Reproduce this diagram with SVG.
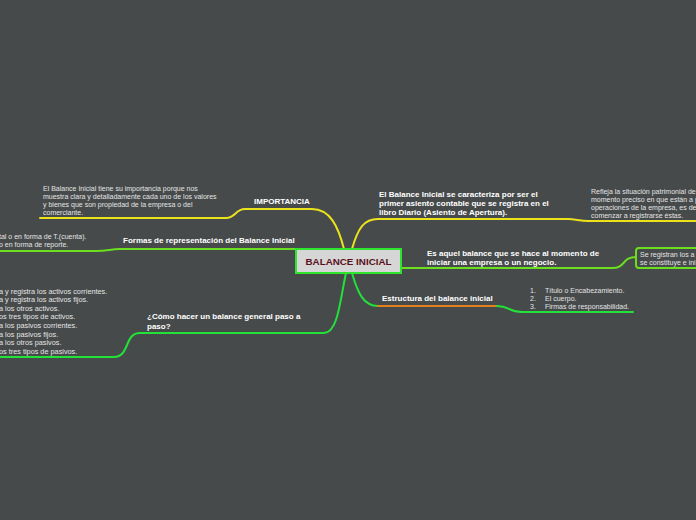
<svg xmlns="http://www.w3.org/2000/svg" width="696" height="520" viewBox="0 0 696 520">
<style>
.bg{fill:#464a4b}
.c{fill:none;stroke-width:2;stroke-linecap:round}
.y{stroke:#ebe21c}
.l{stroke:#6ade1f}
.g{stroke:#22e23a}
.o{stroke:#e2801c}
.lab{font-family:"Liberation Sans",Arial,sans-serif;font-weight:bold;font-size:8px;fill:#ffffff}
.txt{font-family:"Liberation Sans",Arial,sans-serif;font-size:7px;fill:#e4e4e4}
.big{font-size:7.3px}
</style>
<rect class="bg" x="0" y="0" width="696" height="520"/>
<g id="connectors">
<path class="c y" d="M344,249 C338,226 330,209 312,209 L245,209 C235,209 236,218 226,218 L40,218"/>
<path class="c l" d="M297,249 L120,249 C110,249 108,251 96,251 L0,251"/>
<path class="c g" d="M346,273 C340,300 338,333 324,333 L140,333 C124,333 130,357 114,357 L0,357"/>
<path class="c y" d="M352,249 C358,228 364,219 378,219 L568,219 C575,219 580,221 588,221 L696,221"/>
<path class="c l" d="M401,268 L612,268 C626,268 622,257 636,257"/>
<path class="c g" d="M352,273 C358,294 364,306 378,306"/>
<path class="c o" d="M378,306 L497,306"/>
<path class="c g" d="M497,306 C510,306 508,312 522,312 L633,312"/>
</g>
<g id="central">
<rect x="296" y="249" width="105" height="24" fill="#d6d6d6" stroke="#2ee52e" stroke-width="2"/>
<text x="348.5" y="264.5" text-anchor="middle" font-family="Liberation Sans,Arial,sans-serif" font-weight="bold" font-size="9.8px" fill="#5a1020">BALANCE INICIAL</text>
</g>
<g id="importancia">
<text class="lab" x="254" y="203.5">IMPORTANCIA</text>
</g>
<g id="importancia-desc">
<text class="txt" x="43" y="190.5">El Balance Inicial tiene su importancia porque nos</text>
<text class="txt" x="43" y="198.5">muestra clara y detalladamente cada uno de los valores</text>
<text class="txt" x="43" y="206.5">y bienes que son propiedad de la empresa o del</text>
<text class="txt" x="43" y="214.5">comerciante.</text>
</g>
<g id="formas">
<text class="lab" x="123" y="243">Formas de representación del Balance Inicial</text>
</g>
<g id="formas-desc">
<text class="txt" x="-1" y="239">tal o en forma de T.(cuenta).</text>
<text class="txt" x="-1" y="247">o en forma de reporte.</text>
</g>
<g id="como">
<text class="lab" x="147" y="319">¿Cómo hacer un balance general paso a</text>
<text class="lab" x="147" y="328.5">paso?</text>
</g>
<g id="como-desc">
<text class="txt big" x="-1" y="293.5">a y registra los activos corrientes.</text>
<text class="txt big" x="-1" y="302">a y registra los activos fijos.</text>
<text class="txt big" x="-1" y="310.5">a los otros activos.</text>
<text class="txt big" x="-1" y="319">os tres tipos de activos.</text>
<text class="txt big" x="-1" y="328">a los pasivos corrientes.</text>
<text class="txt big" x="-1" y="336.5">a los pasivos fijos.</text>
<text class="txt big" x="-1" y="345">a los otros pasivos.</text>
<text class="txt big" x="-1" y="353.5">os tres tipos de pasivos.</text>
</g>
<g id="caracteriza">
<text class="lab" x="379" y="196.5">El Balance Inicial se caracteriza por ser el</text>
<text class="lab" x="379" y="205.5">primer asiento contable que se registra en el</text>
<text class="lab" x="379" y="214.5">libro Diario (Asiento de Apertura).</text>
</g>
<g id="caracteriza-desc">
<text class="txt" x="591" y="193.5">Refleja la situación patrimonial de</text>
<text class="txt" x="591" y="201.5">momento preciso en que están a p</text>
<text class="txt" x="591" y="209.5">operaciones de la empresa, es de</text>
<text class="txt" x="591" y="217.5">comenzar a registrarse éstas.</text>
</g>
<g id="es-aquel">
<text class="lab" x="427" y="255.5">Es aquel balance que se hace al momen<tspan x="580">to de</tspan></text>
<text class="lab" x="427" y="264.5">iniciar una empresa o un negocio.</text>
</g>
<g id="se-registran">
<rect x="636" y="248" width="80" height="20" rx="3" fill="#464a4b" stroke="#6ade1f" stroke-width="2"/>
<text class="txt" x="640" y="256.5">Se registran los a</text>
<text class="txt" x="640" y="265">se constituye e ini</text>
</g>
<g id="estructura">
<text class="lab" x="382" y="301">Estructura del balance inicial</text>
</g>
<g id="estructura-desc">
<text class="txt" x="530" y="293">1.</text>
<text class="txt" x="545" y="293">Título o Encabezamiento.</text>
<text class="txt" x="530" y="300.5">2.</text>
<text class="txt" x="545" y="300.5">El cuerpo.</text>
<text class="txt" x="530" y="308.5">3.</text>
<text class="txt" x="545" y="308.5">Firmas de responsabilidad.</text>
</g>
</svg>
